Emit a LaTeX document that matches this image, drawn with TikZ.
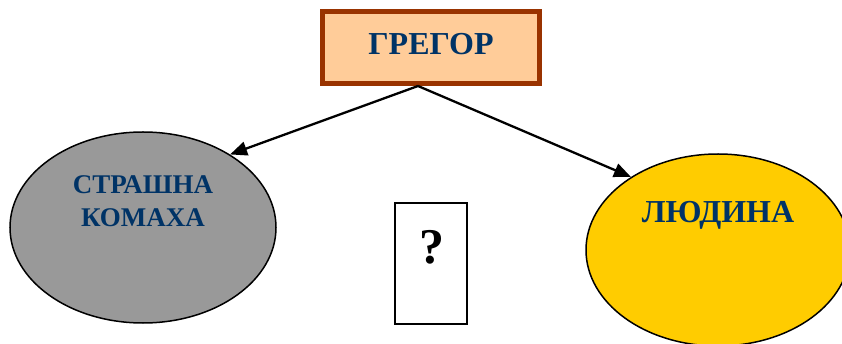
\documentclass[tikz,border=0pt]{standalone}
\usepackage{fontspec}
\setmainfont{Liberation Serif}
\usepackage{tikz}
\usetikzlibrary{arrows.meta, shapes.geometric}

\definecolor{titlenavy}{RGB}{0,51,102}
\definecolor{peach}{RGB}{255,204,153}
\definecolor{rust}{RGB}{153,51,0}
\definecolor{beetlegray}{RGB}{153,153,153}
\definecolor{humangold}{RGB}{255,204,0}

\begin{document}
\begin{tikzpicture}[x=1pt, y=-1pt, font=\bfseries,
    blob/.style={ellipse, draw=black, line width=1.5pt, minimum width=266pt, minimum height=191pt},
    caption/.style={text=titlenavy, inner sep=0pt, align=center},
    link/.style={-{Triangle[length=17pt, width=14pt]}, line width=2.3pt}]
    \useasboundingbox (0,0) rectangle (842,344);
    % hero box
    \node[draw=rust, line width=5pt, fill=peach, minimum width=217pt, minimum height=72pt] (gregor) at (431,47.5) {};
        \node[caption, anchor=base, font=\bfseries\fontsize{32}{36}\selectfont] (gregortxt) at (431,55) {ГРЕГОР};
    % the two sides
    \node[blob, fill=beetlegray] (komaha) at (143,227.5) {};
        \node[caption, anchor=north, font=\bfseries\fontsize{27}{33}\selectfont] (komahatxt) at (143,175) {СТРАШНА\\КОМАХА};
    \node[blob, fill=humangold, minimum width=264pt, minimum height=192pt] (ludyna) at (718,250) {};
        \node[caption, anchor=base, font=\bfseries\fontsize{32}{36}\selectfont] (ludynatxt) at (718,222.5) {ЛЮДИНА};
    % in between
    \node[draw, line width=2pt, fill=white, minimum width=72pt, minimum height=121pt] (unknown) at (431,263.5) {};
        \node[anchor=base, inner sep=0pt, font=\bfseries\fontsize{50}{54}\selectfont] (unknowntxt) at (432,264) {?};
    \coordinate (fork) at ([xshift=-13pt]gregor.south);
    \draw[link] (fork) -- (komaha.40);
    \draw[link] (fork) -- (ludyna.140);
\end{tikzpicture}
\end{document}
